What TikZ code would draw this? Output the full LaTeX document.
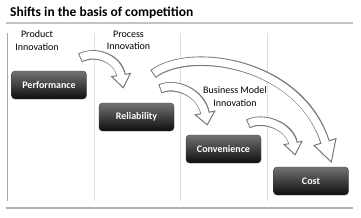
\documentclass[tikz,border=0pt]{standalone}
\usepackage{fontspec}
\setmainfont{Carlito}
\usetikzlibrary{calc}

\definecolor{rulegray}{RGB}{180,180,180}
\definecolor{colgray}{RGB}{222,222,222}
\definecolor{arrowgray}{RGB}{120,120,120}

\begin{document}
\begin{tikzpicture}[x=1pt,y=-1pt,
  stagebox/.style={rounded corners=3.5pt, top color=black!55, bottom color=black!95, draw=black!75,
    minimum width=75pt, minimum height=28pt, inner sep=0pt, text=white,
    font=\fontsize{10}{12}\selectfont\bfseries},
  colhead/.style={align=center, inner sep=0pt, font=\fontsize{10}{12.2}\selectfont},
  bandout/.style={draw=arrowgray, line width=9.5pt},
  bandin/.style={draw=white, line width=7.5pt, shorten <=1pt, shorten >=-2pt},
  arrowhead/.style={fill=white, draw=arrowgray, line width=1pt, line join=miter}]
\useasboundingbox (0,0) rectangle (361,217);
\node[anchor=base west, inner sep=0pt, font=\fontsize{13.5}{16}\selectfont\bfseries] (title) at (10,16.7) {Shifts in the basis of competition};
\draw[rulegray!80, line width=1.5pt] (6,23) -- (353,23);
\draw[rulegray, line width=1.5pt] (6,208) -- (353,208);
% column lines
\draw[black!35, line width=0.8pt] (7.5,33) -- (7.5,201);
\draw[colgray, line width=0.8pt] (94.5,33) -- (94.5,201);
\draw[colgray, line width=0.8pt] (180.5,33) -- (180.5,201);
\draw[colgray, line width=0.8pt] (267.5,33) -- (267.5,201);
% column headings
\node[colhead] (prodinno) at (37,40.6) {Product\\Innovation};
\node[colhead] (procinno) at (128.5,40.6) {Process\\Innovation};
\node[colhead] (bminno) at (235,96.5) {Business Model\\Innovation};
% stages
\node[stagebox] (perf) at (49,85) {Performance};
\node[stagebox] (reli) at (136.5,117) {Reliability};
\node[stagebox] (conv) at (223.5,149) {Convenience};
\node[stagebox] (cost) at (311,181) {Cost};
% arrow from product to process
\coordinate (a1s) at (80,58);
\coordinate (a1c) at (118,58);
\coordinate (a1e) at (121,75);
\draw[bandout] (a1s) .. controls (95,50) and (a1c) .. (a1e);
\filldraw[arrowhead] ($(a1e)!9.5pt!90:(a1c)$) -- ($(a1e)!-13pt!(a1c)$) -- ($(a1e)!9.5pt!-90:(a1c)$) -- cycle;
\draw[bandin] (a1s) .. controls (95,50) and (a1c) .. (a1e);
% arrow from process to business model
\coordinate (a2s) at (160,89);
\coordinate (a2c) at (201,92);
\coordinate (a2e) at (205,113);
\draw[bandout] (a2s) .. controls (175,82) and (a2c) .. (a2e);
\filldraw[arrowhead] ($(a2e)!10pt!90:(a2c)$) -- ($(a2e)!-12pt!(a2c)$) -- ($(a2e)!10pt!-90:(a2c)$) -- cycle;
\draw[bandin] (a2s) .. controls (175,82) and (a2c) .. (a2e);
% long arrow to cost
\coordinate (a3s) at (153,74);
\coordinate (a3c) at (300,62);
\coordinate (a3e) at (325,142);
\draw[bandout] (a3s) .. controls (190,46) and (a3c) .. (a3e);
\filldraw[arrowhead] ($(a3e)!11.5pt!90:(a3c)$) -- ($(a3e)!-21pt!(a3c)$) -- ($(a3e)!11.5pt!-90:(a3c)$) -- cycle;
\draw[bandin] (a3s) .. controls (190,46) and (a3c) .. (a3e);
% arrow from business model to cost
\coordinate (a4s) at (248,124);
\coordinate (a4c) at (290,126);
\coordinate (a4e) at (293,143);
\draw[bandout] (a4s) .. controls (263,116) and (a4c) .. (a4e);
\filldraw[arrowhead] ($(a4e)!9pt!90:(a4c)$) -- ($(a4e)!-12pt!(a4c)$) -- ($(a4e)!9pt!-90:(a4c)$) -- cycle;
\draw[bandin] (a4s) .. controls (263,116) and (a4c) .. (a4e);
\end{tikzpicture}
\end{document}
